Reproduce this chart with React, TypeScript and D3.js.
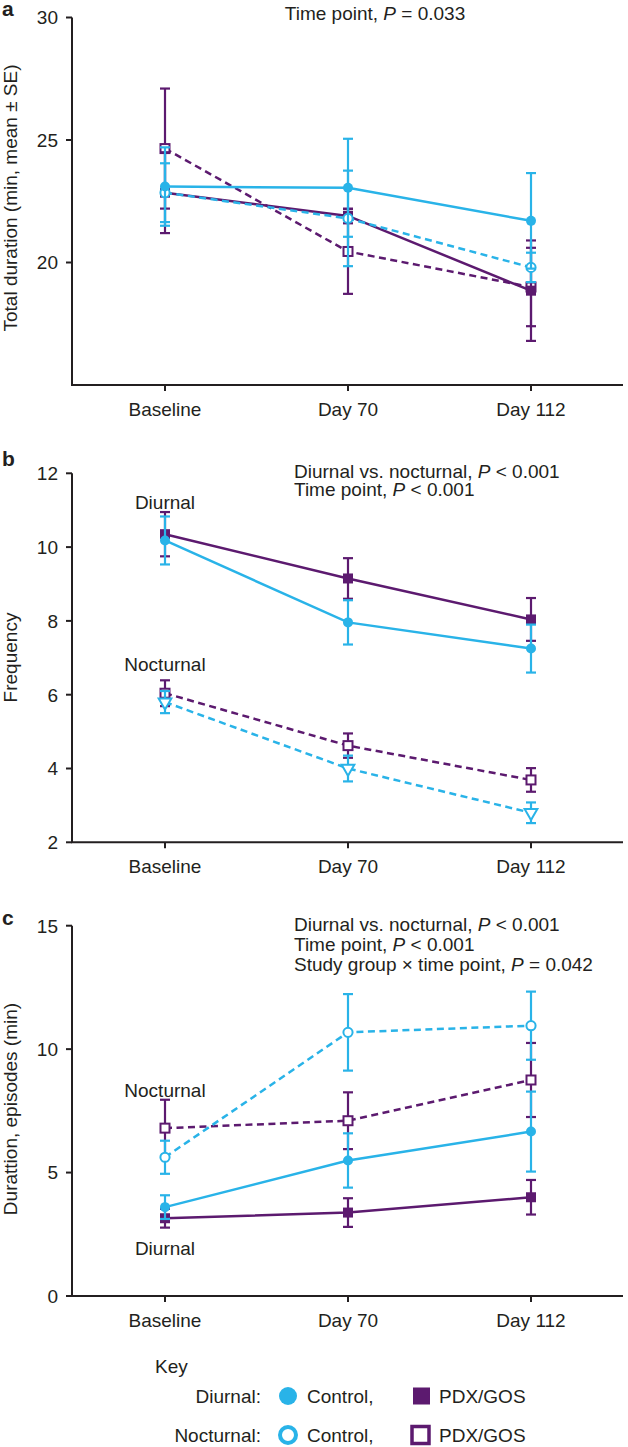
import React from "react";
import * as d3 from "d3";

// ---------- data ----------
const categories = ["Baseline", "Day 70", "Day 112"];

// Panel a: total duration (min, mean ± SE)
const aCtrlDiurnal = [23.1, 23.05, 21.7];
const aCtrlDiurnalSE = [1.6, 2.0, 1.95];
const aCtrlNocturnal = [22.85, 21.8, 19.8];
const aCtrlNocturnalSE = [1.2, 1.95, 0.6];
const aPdxDiurnal = [22.85, 21.9, 18.85];
const aPdxDiurnalSE = [1.65, 0.3, 2.05];
const aPdxNocturnal = [24.65, 20.45, 19.0];
const aPdxNocturnalSE = [2.45, 1.73, 1.6];
const aTicks = [20, 25, 30];

// Panel b: frequency
const bCtrlDiurnal = [10.18, 7.96, 7.25];
const bCtrlDiurnalSE = [0.65, 0.6, 0.65];
const bCtrlNocturnal = [5.8, 4.0, 2.8];
const bCtrlNocturnalSE = [0.3, 0.35, 0.28];
const bPdxDiurnal = [10.35, 9.15, 8.04];
const bPdxDiurnalSE = [0.6, 0.55, 0.58];
const bPdxNocturnal = [6.04, 4.62, 3.69];
const bPdxNocturnalSE = [0.35, 0.33, 0.32];
const bTicks = [2, 4, 6, 8, 10, 12];

// Panel c: duration, episodes (min)
const cCtrlDiurnal = [3.6, 5.49, 6.66];
const cCtrlDiurnalSE = [0.48, 1.1, 1.62];
const cCtrlNocturnal = [5.62, 10.68, 10.95];
const cCtrlNocturnalSE = [0.67, 1.55, 1.38];
const cPdxDiurnal = [3.15, 3.38, 4.0];
const cPdxDiurnalSE = [0.38, 0.58, 0.7];
const cPdxNocturnal = [6.8, 7.1, 8.75];
const cPdxNocturnalSE = [1.15, 1.15, 1.5];
const cTicks = [0, 5, 10, 15];

// ---------- style ----------
const CYAN = "#29B3E8";
const PURPLE = "#5C1A6F";
const INK = "#231F20";
const FONT = "'Liberation Sans', Arial, Helvetica, sans-serif";
const FS = 19;

const X0 = 72;
const X1 = 623;
const xScale = d3.scalePoint<string>().domain(categories).range([165, 531]);

type MarkerKind = "filledCircle" | "openCircle" | "filledSquare" | "openSquare" | "openTriangleDown";

interface Series {
  values: number[];
  se: number[];
  color: string;
  dashed: boolean;
  marker: MarkerKind;
}

function Marker({ kind, x, y, color }: { kind: MarkerKind; x: number; y: number; color: string }) {
  if (kind === "filledCircle") return <circle cx={x} cy={y} r={5} fill={color} />;
  if (kind === "openCircle")
    return <circle cx={x} cy={y} r={4.6} fill="#fff" stroke={color} strokeWidth={2} />;
  if (kind === "filledSquare")
    return <rect x={x - 5} y={y - 5} width={10} height={10} fill={color} />;
  if (kind === "openSquare")
    return <rect x={x - 4.5} y={y - 4.5} width={9} height={9} fill="#fff" stroke={color} strokeWidth={2} />;
  const tri = d3.symbol().type(d3.symbolTriangle).size(70)();
  return (
    <path
      d={tri || ""}
      transform={`translate(${x},${y}) rotate(180)`}
      fill="#fff"
      stroke={color}
      strokeWidth={2}
    />
  );
}

function Panel({
  letter,
  letterY,
  domain,
  range,
  ticks,
  series,
  yTitle,
  yTitleCenter,
  notes,
  notesX,
  notesAnchor,
  notesY,
  groupLabels,
}: {
  letter: string;
  letterY: number;
  domain: [number, number];
  range: [number, number];
  ticks: number[];
  series: Series[];
  yTitle: string;
  yTitleCenter: number;
  notes: React.ReactNode[];
  notesX: number;
  notesAnchor: "start" | "middle";
  notesY: number[];
  groupLabels: { text: string; y: number }[];
}) {
  const y = d3.scaleLinear().domain(domain).range(range);
  const yBottom = range[0];
  const yTop = range[1];
  const line = d3
    .line<number>()
    .x((_, i) => xScale(categories[i]) as number)
    .y((v) => y(v));
  return (
    <g>
      <text x={2} y={letterY} fontFamily={FONT} fontWeight="bold" fontSize={21} fill={INK}>
        {letter}
      </text>
      {/* y axis */}
      <line x1={X0} x2={X0} y1={yTop} y2={yBottom} stroke={INK} strokeWidth={2} />
      {ticks.map((t) => (
        <g key={t}>
          <line x1={X0 - 6} x2={X0} y1={y(t)} y2={y(t)} stroke={INK} strokeWidth={2} />
          <text
            x={58}
            y={y(t)}
            dy="0.36em"
            textAnchor="end"
            fontFamily={FONT}
            fontSize={FS}
            fill={INK}
          >
            {t}
          </text>
        </g>
      ))}
      {/* x axis */}
      <line x1={X0 - 1} x2={X1} y1={yBottom} y2={yBottom} stroke={INK} strokeWidth={2} />
      {categories.map((c) => (
        <g key={c}>
          <line
            x1={xScale(c)}
            x2={xScale(c)}
            y1={yBottom}
            y2={yBottom + 6}
            stroke={INK}
            strokeWidth={2}
          />
          <text
            x={xScale(c)}
            y={yBottom + 31}
            textAnchor="middle"
            fontFamily={FONT}
            fontSize={FS}
            fill={INK}
          >
            {c}
          </text>
        </g>
      ))}
      {/* y title */}
      <text
        transform={`translate(17,${yTitleCenter}) rotate(-90)`}
        textAnchor="middle"
        fontFamily={FONT}
        fontSize={FS}
        fill={INK}
      >
        {yTitle}
      </text>
      {/* notes */}
      {notes.map((n, i) => (
        <text
          key={i}
          x={notesX}
          y={notesY[i]}
          textAnchor={notesAnchor}
          fontFamily={FONT}
          fontSize={FS}
          fill={INK}
        >
          {n}
        </text>
      ))}
      {groupLabels.map((g) => (
        <text
          key={g.text}
          x={165}
          y={g.y}
          textAnchor="middle"
          fontFamily={FONT}
          fontSize={FS}
          fill={INK}
        >
          {g.text}
        </text>
      ))}
      {/* series */}
      {series.map((s, si) => (
        <g key={si}>
          <path
            d={line(s.values) || ""}
            fill="none"
            stroke={s.color}
            strokeWidth={2.5}
            strokeDasharray={s.dashed ? "7,4.5" : undefined}
          />
          {s.values.map((v, i) => {
            const cx = xScale(categories[i]) as number;
            const top = y(v + s.se[i]);
            const bot = y(v - s.se[i]);
            return (
              <g key={i}>
                <line x1={cx} x2={cx} y1={top} y2={bot} stroke={s.color} strokeWidth={2.2} />
                <line x1={cx - 5} x2={cx + 5} y1={top} y2={top} stroke={s.color} strokeWidth={2.2} />
                <line x1={cx - 5} x2={cx + 5} y1={bot} y2={bot} stroke={s.color} strokeWidth={2.2} />
              </g>
            );
          })}
          {s.values.map((v, i) => (
            <Marker
              key={"m" + i}
              kind={s.marker}
              x={xScale(categories[i]) as number}
              y={y(v)}
              color={s.color}
            />
          ))}
        </g>
      ))}
    </g>
  );
}

const P = () => <tspan fontStyle="italic">P</tspan>;

export default function App() {
  const seriesA: Series[] = [
    { values: aPdxNocturnal, se: aPdxNocturnalSE, color: PURPLE, dashed: true, marker: "openSquare" },
    { values: aPdxDiurnal, se: aPdxDiurnalSE, color: PURPLE, dashed: false, marker: "filledSquare" },
    { values: aCtrlNocturnal, se: aCtrlNocturnalSE, color: CYAN, dashed: true, marker: "openCircle" },
    { values: aCtrlDiurnal, se: aCtrlDiurnalSE, color: CYAN, dashed: false, marker: "filledCircle" },
  ];
  const seriesB: Series[] = [
    { values: bPdxNocturnal, se: bPdxNocturnalSE, color: PURPLE, dashed: true, marker: "openSquare" },
    { values: bPdxDiurnal, se: bPdxDiurnalSE, color: PURPLE, dashed: false, marker: "filledSquare" },
    { values: bCtrlNocturnal, se: bCtrlNocturnalSE, color: CYAN, dashed: true, marker: "openTriangleDown" },
    { values: bCtrlDiurnal, se: bCtrlDiurnalSE, color: CYAN, dashed: false, marker: "filledCircle" },
  ];
  const seriesC: Series[] = [
    { values: cPdxNocturnal, se: cPdxNocturnalSE, color: PURPLE, dashed: true, marker: "openSquare" },
    { values: cPdxDiurnal, se: cPdxDiurnalSE, color: PURPLE, dashed: false, marker: "filledSquare" },
    { values: cCtrlNocturnal, se: cCtrlNocturnalSE, color: CYAN, dashed: true, marker: "openCircle" },
    { values: cCtrlDiurnal, se: cCtrlDiurnalSE, color: CYAN, dashed: false, marker: "filledCircle" },
  ];

  return (
    <svg
      width={628}
      height={1447}
      viewBox="0 0 628 1447"
      style={{ position: "absolute", left: 0, top: 0, background: "#fff" }}
    >
      <rect x={0} y={0} width={628} height={1447} fill="#fff" />
      <Panel
        letter="a"
        letterY={16}
        domain={[15, 30]}
        range={[385, 17.5]}
        ticks={aTicks}
        series={seriesA}
        yTitle="Total duration (min, mean ± SE)"
        yTitleCenter={198}
        notes={[
          <>
            Time point, <P /> = 0.033
          </>,
        ]}
        notesX={375}
        notesAnchor="middle"
        notesY={[19.5]}
        groupLabels={[]}
      />
      <Panel
        letter="b"
        letterY={466}
        domain={[2, 12]}
        range={[842.3, 473.3]}
        ticks={bTicks}
        series={seriesB}
        yTitle="Frequency"
        yTitleCenter={657.5}
        notes={[
          <>
            Diurnal vs. nocturnal, <P /> {"<"} 0.001
          </>,
          <>
            Time point, <P /> {"<"} 0.001
          </>,
        ]}
        notesX={294}
        notesAnchor="start"
        notesY={[477.5, 496]}
        groupLabels={[
          { text: "Diurnal", y: 509 },
          { text: "Nocturnal", y: 670.7 },
        ]}
      />
      <Panel
        letter="c"
        letterY={925}
        domain={[0, 15]}
        range={[1296, 925.7]}
        ticks={cTicks}
        series={seriesC}
        yTitle="Durattion, episodes (min)"
        yTitleCenter={1109}
        notes={[
          <>
            Diurnal vs. nocturnal, <P /> {"<"} 0.001
          </>,
          <>
            Time point, <P /> {"<"} 0.001
          </>,
          <>
            Study group × time point, <P /> = 0.042
          </>,
        ]}
        notesX={294}
        notesAnchor="start"
        notesY={[931, 950.5, 970.5]}
        groupLabels={[
          { text: "Nocturnal", y: 1096.7 },
          { text: "Diurnal", y: 1255 },
        ]}
      />
      {/* Key */}
      <g fontFamily={FONT} fontSize={FS} fill={INK}>
        <text x={155} y={1373}>Key</text>
        <text x={261} y={1403} textAnchor="end">Diurnal:</text>
        <circle cx={288} cy={1396} r={9} fill={CYAN} />
        <text x={307} y={1403}>Control,</text>
        <rect x={413} y={1387.5} width={17} height={17} fill={PURPLE} />
        <text x={439} y={1403}>PDX/GOS</text>
        <text x={261} y={1442} textAnchor="end">Nocturnal:</text>
        <circle cx={288} cy={1435} r={8} fill="#fff" stroke={CYAN} strokeWidth={4} />
        <text x={307} y={1442}>Control,</text>
        <rect x={412} y={1426.5} width={17} height={17} fill="#fff" stroke={PURPLE} strokeWidth={3.5} />
        <text x={439} y={1442}>PDX/GOS</text>
      </g>
    </svg>
  );
}
